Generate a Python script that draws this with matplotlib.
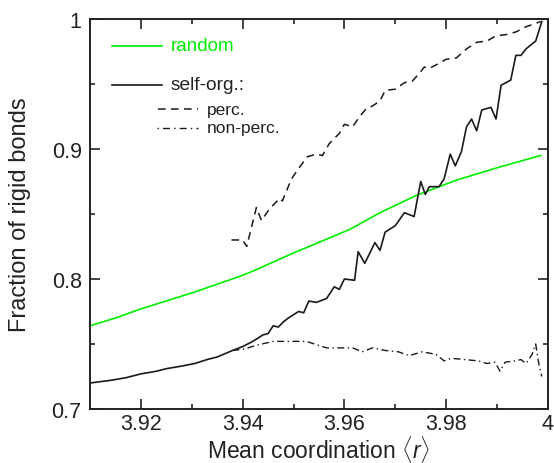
import matplotlib
matplotlib.use("Agg")
import matplotlib.pyplot as plt
from matplotlib.lines import Line2D
from matplotlib.ticker import MultipleLocator, FuncFormatter

plt.rcParams['font.family'] = ['Liberation Sans', 'DejaVu Sans']
plt.rcParams['mathtext.fontset'] = 'custom'
plt.rcParams['mathtext.rm'] = 'Liberation Sans'
plt.rcParams['mathtext.it'] = 'Liberation Sans:italic'

# random network
r_random = [3.910, 3.915, 3.920, 3.9306, 3.9394, 3.942, 3.950, 3.961, 3.967,
            3.974, 3.982, 3.9904, 3.9986]
f_random = [0.764, 0.770, 0.777, 0.790, 0.802, 0.806, 0.820, 0.838, 0.851,
            0.864, 0.876, 0.886, 0.895]

# self-organized, all
r_self = [3.910, 3.914, 3.917, 3.920, 3.923, 3.925, 3.928, 3.9306, 3.933,
          3.935, 3.938, 3.940, 3.942, 3.944, 3.945, 3.946, 3.947, 3.948,
          3.949, 3.951, 3.952, 3.953, 3.9545, 3.9565, 3.958, 3.959, 3.960,
          3.962, 3.9627, 3.964, 3.966, 3.967, 3.968, 3.970, 3.9718, 3.9737,
          3.975, 3.9759, 3.9767, 3.9786, 3.9796, 3.9808, 3.9818, 3.983,
          3.984, 3.985, 3.986, 3.987, 3.9888, 3.9898, 3.9908, 3.9927,
          3.9937, 3.9947, 3.9957, 3.9976, 3.9988]
f_self = [0.720, 0.722, 0.724, 0.727, 0.729, 0.731, 0.733, 0.735, 0.738,
          0.740, 0.745, 0.748, 0.752, 0.757, 0.758, 0.764, 0.763, 0.767,
          0.770, 0.775, 0.774, 0.783, 0.782, 0.785, 0.794, 0.792, 0.800,
          0.799, 0.821, 0.812, 0.828, 0.822, 0.836, 0.841, 0.851, 0.848,
          0.875, 0.865, 0.871, 0.871, 0.877, 0.896, 0.887, 0.898,
          0.917, 0.923, 0.914, 0.930, 0.932, 0.923, 0.949, 0.953,
          0.972, 0.972, 0.977, 0.983, 0.998]

# self-organized, percolating
r_perc = [3.9378, 3.940, 3.9408, 3.9427, 3.9437, 3.9453, 3.9473, 3.9478,
          3.9496, 3.951, 3.9527, 3.9545, 3.9557, 3.957, 3.959, 3.960, 3.9616,
          3.963, 3.9643, 3.9655, 3.967, 3.968, 3.970, 3.9718, 3.9733, 3.9747,
          3.9757, 3.9767, 3.9782, 3.980, 3.982, 3.984, 3.986, 3.988, 3.9898,
          3.9918, 3.9937, 3.9957, 3.9986]
f_perc = [0.830, 0.830, 0.825, 0.855, 0.845, 0.854, 0.862, 0.860,
          0.877, 0.885, 0.894, 0.896, 0.895, 0.904, 0.912, 0.919, 0.917,
          0.925, 0.931, 0.933, 0.937, 0.945, 0.946, 0.951, 0.952, 0.958,
          0.963, 0.962, 0.965, 0.969, 0.970, 0.977, 0.982, 0.983, 0.987,
          0.988, 0.990, 0.994, 0.998]

# self-organized, non-percolating
r_nonperc = [3.938, 3.9402, 3.9427, 3.946, 3.950, 3.9525, 3.9565, 3.9596,
             3.9616, 3.9635, 3.9655, 3.968, 3.9706, 3.9727, 3.9753, 3.978,
             3.9796, 3.981, 3.9837, 3.9863, 3.988, 3.9896, 3.9906, 3.9916,
             3.9935, 3.9947, 3.9957, 3.9969, 3.9976, 3.9982, 3.9988]
f_nonperc = [0.745, 0.746, 0.749, 0.752, 0.752, 0.752, 0.747, 0.747,
             0.747, 0.744, 0.747, 0.745, 0.744, 0.741, 0.744, 0.742,
             0.737, 0.739, 0.738, 0.737, 0.735, 0.736, 0.729, 0.736,
             0.737, 0.738, 0.735, 0.742, 0.750, 0.735, 0.725]

fig = plt.figure(figsize=(5.54, 4.64), dpi=100)
ax = fig.add_axes([0.1625, 0.1164, 0.8265, 0.8406])

ax.plot(r_random, f_random, color='#00ee00', lw=1.2)
ax.plot(r_self, f_self, color='#1a1a1a', lw=1.2)
ax.plot(r_perc, f_perc, color='#1a1a1a', lw=1.1, dashes=(5, 3.5))
ax.plot(r_nonperc, f_nonperc, color='#1a1a1a', lw=1.0, dashes=(5, 2.5, 1, 2.5))

ax.set_xlim(3.91, 4.0)
ax.set_ylim(0.7, 1.0)
ax.xaxis.set_major_locator(MultipleLocator(0.02))
ax.xaxis.set_minor_locator(MultipleLocator(0.01))
ax.yaxis.set_major_locator(MultipleLocator(0.1))
ax.yaxis.set_minor_locator(MultipleLocator(0.05))
fmt = FuncFormatter(lambda v, p: f"{v:g}")
ax.xaxis.set_major_formatter(fmt)
ax.yaxis.set_major_formatter(fmt)
ax.tick_params(which='both', direction='in', top=True, right=True,
               labelsize=15.5, color='#222222', labelcolor='#222222', width=1.2)
ax.tick_params(axis='x', pad=3)
ax.tick_params(axis='y', pad=6)
ax.tick_params(which='major', length=7)
ax.tick_params(which='minor', length=3.5)
for s in ax.spines.values():
    s.set_linewidth(1.4)
    s.set_color('#222222')

xl = ax.set_xlabel(r"Mean coordination $\langle r\rangle$", fontsize=16.5,
                   color='#222222')
xl.set_va('baseline')
ax.xaxis.set_label_coords(0.5, -0.124)
yl = ax.set_ylabel("Fraction of rigid bonds", fontsize=17, color='#222222')
yl.set_va('center')
ax.yaxis.set_label_coords(-0.153, 0.5)

# legend drawn by hand
tr = ax.transAxes
ax.add_line(Line2D([0.048, 0.157], [0.931, 0.931], transform=tr,
                   color='#00ee00', lw=1.2))
ax.text(0.177, 0.931, "random", transform=tr, color='#00ee00',
        fontsize=13.5, va='center')
ax.add_line(Line2D([0.048, 0.157], [0.831, 0.831], transform=tr,
                   color='#1a1a1a', lw=1.2))
ax.text(0.175, 0.831, "self-org.:", transform=tr, color='#222222',
        fontsize=13.8, va='center')
ax.add_line(Line2D([0.148, 0.236], [0.769, 0.769], transform=tr,
                   color='#1a1a1a', lw=1.1, dashes=(5, 3.5)))
ax.text(0.255, 0.769, "perc.", transform=tr, color='#222222',
        fontsize=12.5, va='center')
ax.add_line(Line2D([0.146, 0.236], [0.721, 0.721], transform=tr,
                   color='#1a1a1a', lw=1.0, dashes=(1, 3, 5, 3)))
ax.text(0.255, 0.721, "non-perc.", transform=tr, color='#222222',
        fontsize=12.5, va='center')

fig.savefig("out.png", dpi=100)
